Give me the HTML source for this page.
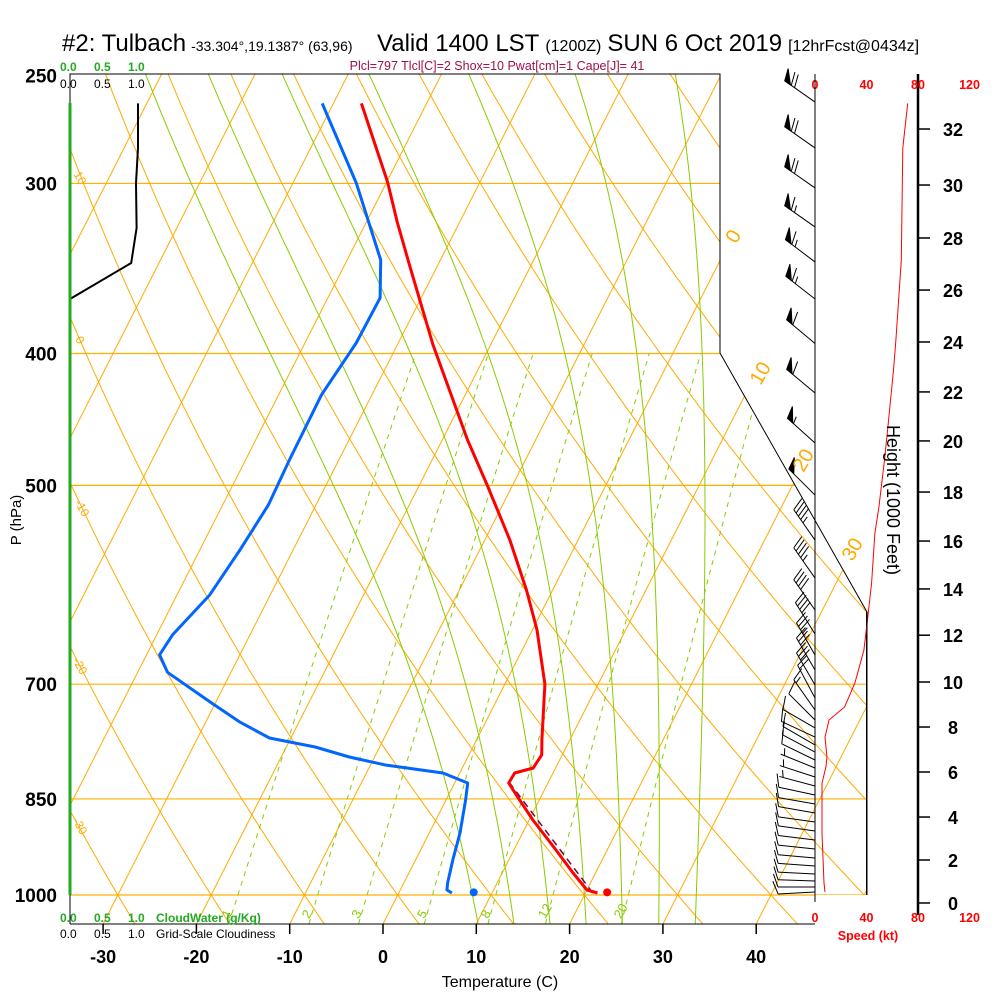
<!DOCTYPE html>
<html><head><meta charset="utf-8"><title>Skew-T Tulbach</title>
<style>
html,body{margin:0;padding:0;background:#fff;}
svg{display:block;font-family:"Liberation Sans",Arial,sans-serif;}
</style></head>
<body>
<svg id="chart" width="1000" height="1000" viewBox="0 0 1000 1000" xmlns="http://www.w3.org/2000/svg">
<defs>
<clipPath id="plotclip"><polygon points="70,74 720,74 720,353 867,612 867,895 815,895 815,924 70,924"/></clipPath>
</defs>
<rect x="0" y="0" width="1000" height="1000" fill="#fff"/>
<g id="grid" clip-path="url(#plotclip)"></g>
<g id="traces"></g>
<g id="right"></g>

<!-- frame -->
<g fill="none" stroke="#000" stroke-width="1">
<polyline points="70,103 70,74 720,74 720,353 867,612 867,895"/>
<line x1="70" y1="924" x2="815" y2="924"/>
<line x1="70" y1="895" x2="70" y2="924"/>
<line x1="815" y1="74" x2="815" y2="902"/>
</g>
<line x1="70" y1="103" x2="70" y2="895" stroke="#22aa22" stroke-width="3"/>

<!-- titles -->
<text y="51" font-size="24"><tspan x="62">#2: Tulbach</tspan><tspan font-size="14" dx="5">-33.304°,19.1387° (63,96)</tspan></text>
<text y="51" font-size="24"><tspan x="377">Valid 1400 LST</tspan><tspan font-size="16" dx="6">(1200Z)</tspan><tspan dx="6">SUN 6 Oct 2019</tspan><tspan font-size="16" dx="6">[12hrFcst@0434z]</tspan></text>
<text x="497" y="70" font-size="12.5" fill="#a0104a" text-anchor="middle">Plcl=797 Tlcl[C]=2 Shox=10 Pwat[cm]=1 Cape[J]= 41</text>

<!-- cloud scales -->
<g font-size="12" font-weight="bold">
<text x="60" y="71" fill="#22aa22">0.0</text><text x="94" y="71" fill="#22aa22">0.5</text><text x="128" y="71" fill="#22aa22">1.0</text>
<text x="60" y="88" fill="#000" font-weight="normal">0.0</text><text x="94" y="88" font-weight="normal">0.5</text><text x="128" y="88" font-weight="normal">1.0</text>
</g>
<g font-size="12" font-weight="bold">
<text x="60" y="922" fill="#22aa22">0.0</text><text x="94" y="922" fill="#22aa22">0.5</text><text x="128" y="922" fill="#22aa22">1.0</text>
<text x="156" y="922" fill="#22aa22">CloudWater (g/Kg)</text>
<text x="60" y="938" font-weight="normal">0.0</text><text x="94" y="938" font-weight="normal">0.5</text><text x="128" y="938" font-weight="normal">1.0</text>
<text x="156" y="938" font-weight="normal">Grid-Scale Cloudiness</text>
</g>

<text transform="translate(21,520) rotate(-90)" font-size="15" text-anchor="middle">P (hPa)</text>
<text x="500" y="987" font-size="16" text-anchor="middle">Temperature (C)</text>
<text transform="translate(887,500) rotate(90)" font-size="18" text-anchor="middle">Height (1000 Feet)</text>
<text x="868" y="940" font-size="12.5" font-weight="bold" fill="#ff0000" text-anchor="middle">Speed (kt)</text>

<g id="labels"></g>

<script>
// ---------- data ----------
const pressureTicks = [250, 300, 400, 500, 700, 850, 1000];
const tempTicks = [-30, -20, -10, 0, 10, 20, 30, 40];
const isothermValues = [-110,-100,-90,-80,-70,-60,-50,-40,-30,-20,-10,0,10,20,30,40,50];
const dryAdiabatThetaC = [-40,-30,-20,-10,0,10,20,30,40,50,60,70,80,90,100,110,120,130,140,150,160];
const moistAdiabatThetaW = [8,12,16,20,24,28,32];
const mixingRatios = [1,2,3,5,8,12,20];

const tempP = [262,283.5,299.3,320.2,346,394,463,500,548.5,597,638.6,700,769,789,806.6,813.5,827.4,847,880.8,922,963.5,991.6,996.6];
const tempC = [-47.0,-42.8,-39.9,-36.7,-32.8,-26.2,-17.3,-12.7,-7.3,-2.8,0.5,4.3,7.0,7.8,7.6,5.9,5.8,7.5,10.4,14.1,17.6,20.0,21.3];
const dewP = [262,299.8,341.5,364.1,393,429,479,517,558,602,644,666,686,722.6,746,766.7,778.5,791.8,802.5,813.5,827.4,851.5,900.4,942.5,980,991.6,996.6];
const dewC = [-51.2,-43.2,-36.4,-34.4,-34.5,-35.4,-35.3,-35.1,-35.7,-36.5,-38.3,-38.6,-36.8,-30.4,-26.4,-22.3,-16.9,-12.7,-8.4,-1.8,1.4,2.1,3.3,4.0,4.7,5.0,5.7];
const parcelP = [996.6, 827.4];
const parcelC = [20.8, 5.9];
const surfaceTempC = 22.3, surfaceDewC = 8.0, surfaceP = 995.5;

const cloudP = [262,282.5,299.8,323.5,343.2,364.8];
const cloudFrac = [1.0,1.0,0.97,0.98,0.90,0.0];

const windP = [261.4,282.5,302.3,322.9,342.6,364.8,393.3,427.7,465.4,508.3,548.5,584.9,617.4,643,666.2,683.4,701,716.5,731.2,743.7,753.8,765.5,775.8,785.1,795.8,806.6,819,831.6,844.3,857.3,870.5,883.8,897.4,911.1,925.1,939.3,952.1,965.1,976.6,986.6,995];
const windDir = [305,305,305,305,307,308,310,310,312,315,325,325,325,328,330,330,330,332,325,315,300,295,300,298,296,292,288,285,282,280,280,278,278,277,276,275,274,273,272,270,267];
const windSpd = [72,68,68,67,66,65,62,58,54,50,46,44,41,39,36,32,28,22,15,10,8,8,9,9,8,6,6,5,10,10,10,10,10,10,10,10,10,10,10,10,10];

const speedP = [262,282.5,341.5,391,411.4,453,479,518.7,542,589.8,624.7,660.7,698.6,727.5,743.7,765.5,791.8,805.3,827.4,900.4,980,995];
const speedKt = [72,68.2,67,62.8,61,56.6,54,49.6,46.5,44,41,38,31,23,10.9,7.8,9.3,8.5,5.4,5.4,7,7.8];

const heightTicks = [0,2,4,6,8,10,12,14,16,18,20,22,24,26,28,30,32];
const heightTickP = [1013.6,942.5,876.4,812.1,752.6,697.4,644.3,595.8,549.4,505.7,463.8,426.9,392.3,359.3,329.0,300.8,273.6];
const speedTicks = [0,40,80,120];

// ---------- scales ----------
function Y(p){ return 895 - 591*Math.log(1000/p); }
function X(T,p){ return 383 + 9.33*T + 0.508*(924 - Y(p)); }
function SX(kt){ return 815 + 1.2875*kt; }
function CX(v){ return 70 + 68*v; }

const NS = "http://www.w3.org/2000/svg";
function mk(tag, parent, attrs){ const e=document.createElementNS(NS,tag); for(const k in attrs) e.setAttribute(k,attrs[k]); parent.appendChild(e); return e; }
function pathFrom(pts){ return pts.map((q,i)=>(i?'L':'M')+q[0].toFixed(1)+','+q[1].toFixed(1)).join(''); }

const grid = document.getElementById('grid');
const traces = document.getElementById('traces');
const right = document.getElementById('right');
const labels = document.getElementById('labels');

// isobars
pressureTicks.forEach(p=>{ if(p===250) return;
  const l = mk('line', grid, {x1:70, x2:870, y1:Y(p), y2:Y(p), stroke:'#ffb000', 'stroke-width':1.2});
  
  
});
// isotherms
isothermValues.forEach(T=>{
  const l = mk('line', grid, {x1:X(T,1050), y1:Y(1050), x2:X(T,240), y2:Y(240), stroke:'#ffaa00', 'stroke-width':1});
  
  
});
// dry adiabats
dryAdiabatThetaC.forEach(th=>{
  const pts=[]; for(let p=1060;p>=230;p-=10){ const T=(th+273.15)*Math.pow(p/1000,0.2857)-273.15; pts.push([X(T,p),Y(p)]); }
  const e = mk('path', grid, {d:pathFrom(pts), fill:'none', stroke:'#ffaa00', 'stroke-width':1});
  
  
});
// moist adiabats
function es(Tc){ return 6.112*Math.exp(17.67*Tc/(Tc+243.5)); }
function dTdp(Tk,p){ const Tc=Tk-273.15; const e=es(Tc); const rs=0.622*e/(p-e); const Rd=287,cp=1004,Lv=2.5e6;
  return (Rd*Tk + Lv*rs)/(p*(cp + Lv*Lv*rs*0.622/(Rd*Tk*Tk))); }
moistAdiabatThetaW.forEach(tw=>{
  const pts=[]; let Tk=tw+273.15;
  const down=[]; let T2=Tk; for(let p=1000;p<=1060;p+=2){ down.push([X(T2-273.15,p),Y(p)]); T2+=dTdp(T2,p)*2; }
  down.reverse().forEach(q=>pts.push(q));
  for(let p=1000;p>=230;p-=2){ pts.push([X(Tk-273.15,p),Y(p)]); Tk-=dTdp(Tk,p)*2; }
  const e = mk('path', grid, {d:pathFrom(pts), fill:'none', stroke:'#88cc00', 'stroke-width':1});
  
  
});
// mixing ratio lines
function tdFromW(w,p){ const e=(w/1000)*p/(0.622+w/1000); const a=Math.log(e/6.112); return 243.5*a/(17.67-a); }
mixingRatios.forEach(w=>{
  const pts=[]; for(let p=1050;p>=400;p-=10) pts.push([X(tdFromW(w,p),p),Y(p)]);
  const e = mk('path', grid, {d:pathFrom(pts), fill:'none', stroke:'#88cc00', 'stroke-width':1, 'stroke-dasharray':'5,5'});
  
  
  const t = mk('text', labels, {x:X(tdFromW(w,1035),1035)-6, y:Y(1035)+6, 'font-size':13, fill:'#88cc00', transform:'rotate(-60 '+(X(tdFromW(w,1035),1035)-6)+' '+(Y(1035)+2)+')'});
  t.textContent = w;
  
  
});

// isotherm labels on right boundary
[[0,733,243],[10,760,380],[20,803,467],[30,852,556]].forEach(a=>{
  const t = mk('text', labels, {x:a[1], y:a[2], 'font-size':20, fill:'#ffaa00', 'text-anchor':'middle', transform:'rotate(-60 '+a[1]+' '+(a[2]-7)+')'});
  t.textContent=a[0];
  
  
});
// dry adiabat labels on left
[[10,80,182],[0,80,344],[-10,82,512],[-20,80,670],[-30,80,830]].forEach(a=>{
  const t = mk('text', labels, {x:a[1], y:a[2], 'font-size':12, fill:'#ffaa00', 'text-anchor':'middle', transform:'rotate(60 '+a[1]+' '+(a[2]-4)+')'});
  t.textContent=a[0];
  
  
});

// pressure labels
pressureTicks.forEach(p=>{
  const t = mk('text', labels, {x:57, y:Y(p)+7, 'font-size':19, 'font-weight':'bold', 'text-anchor':'end'});
  t.textContent=p;
  
  
});
// temperature ticks
tempTicks.forEach(T=>{
  const x=383+9.33*T;
  const l = mk('line', labels, {x1:x, x2:x, y1:924, y2:934, stroke:'#000', 'stroke-width':1.5});
  
  
  const t = mk('text', labels, {x:x, y:963, 'font-size':18, 'font-weight':'bold', 'text-anchor':'middle'});
  t.textContent=T;
  
  
});

// cloudiness trace
{ const pts=cloudP.map((p,i)=>[CX(cloudFrac[i]),Y(p)]);
  const e = mk('path', traces, {d:pathFrom(pts), fill:'none', stroke:'#000', 'stroke-width':2});
  
   }
// parcel
{ const pts=parcelP.map((p,i)=>[X(parcelC[i],p),Y(p)]);
  const e = mk('path', traces, {d:pathFrom(pts), fill:'none', stroke:'#800040', 'stroke-width':1.5, 'stroke-dasharray':'7,5'});
  
   }
// dewpoint
{ const pts=dewP.map((p,i)=>[X(dewC[i],p),Y(p)]);
  const e = mk('path', traces, {d:pathFrom(pts), fill:'none', stroke:'#0066ff', 'stroke-width':3, 'stroke-linejoin':'round'});
  
   }
// temperature
{ const pts=tempP.map((p,i)=>[X(tempC[i],p),Y(p)]);
  const e = mk('path', traces, {d:pathFrom(pts), fill:'none', stroke:'#ff0000', 'stroke-width':3, 'stroke-linejoin':'round'});
  
   }
{ const c1 = mk('circle', traces, {cx:X(surfaceTempC,surfaceP), cy:Y(surfaceP), r:4, fill:'#ff0000'});
  
  
  const c2 = mk('circle', traces, {cx:X(surfaceDewC,surfaceP), cy:Y(surfaceP), r:4, fill:'#0066ff'});
  
   }

// ---------- right panel ----------
{ const l = mk('line', right, {x1:918, x2:918, y1:74, y2:915, stroke:'#000', 'stroke-width':2.5});
  
   }
heightTicks.forEach((h,i)=>{
  const y=Y(heightTickP[i]);
  const l = mk('line', right, {x1:918, x2:930, y1:y, y2:y, stroke:'#000', 'stroke-width':1.5});
  
  
  const t = mk('text', right, {x:953, y:y+7, 'font-size':18, 'font-weight':'bold', 'text-anchor':'middle'});
  t.textContent=h;
  
  
});
speedTicks.forEach(s=>{
  [89,922].forEach(yy=>{
    const t = mk('text', right, {x:SX(s), y:yy, 'font-size':12.5, 'font-weight':'bold', fill:'#ff0000', 'text-anchor':'middle'});
    t.textContent=s;
    
    
  });
});
// 40 kt reference line
{ const l = mk('line', right, {x1:SX(40), x2:SX(40), y1:612, y2:895, stroke:'#000', 'stroke-width':1});
  
   }
// wind speed profile
{ const pts=speedP.map((p,i)=>[SX(speedKt[i]),Y(p)]);
  const e = mk('path', right, {d:pathFrom(pts), fill:'none', stroke:'#ff0000', 'stroke-width':1});
  
   }
// wind barbs
windP.forEach((p,i)=>{
  const d=windDir[i]*Math.PI/180, L=37;
  const ux=Math.sin(d), uy=-Math.cos(d);
  const x0=815, y0=Y(p), x1=x0+L*ux, y1=y0+L*uy;
  const g = mk('g', right, {stroke:'#000', 'stroke-width':1, fill:'#000'});
  
  
  mk('line', g, {x1:x0, y1:y0, x2:x1, y2:y1});
  let s=Math.round(windSpd[i]/5)*5, pos=0;
  const px=-uy, py=ux; // perpendicular
  const bx=px+0.35*ux, by=py+0.35*uy;
  while(s>=50){ const ax=x1-pos*ux, ay=y1-pos*uy, cx2=x1-(pos+7)*ux, cy2=y1-(pos+7)*uy;
    mk('polygon', g, {points:ax+','+ay+' '+(ax+12*bx)+','+(ay+12*by)+' '+cx2+','+cy2}); pos+=8; s-=50; }
  while(s>=10){ const ax=x1-pos*ux, ay=y1-pos*uy; mk('line', g, {x1:ax, y1:ay, x2:ax+13*bx, y2:ay+13*by}); pos+=4; s-=10; }
  if(s>=5){ if(pos===0) pos=4; const ax=x1-pos*ux, ay=y1-pos*uy; mk('line', g, {x1:ax, y1:ay, x2:ax+7*bx, y2:ay+7*by}); }
});
</script>
</svg>
</body></html>
